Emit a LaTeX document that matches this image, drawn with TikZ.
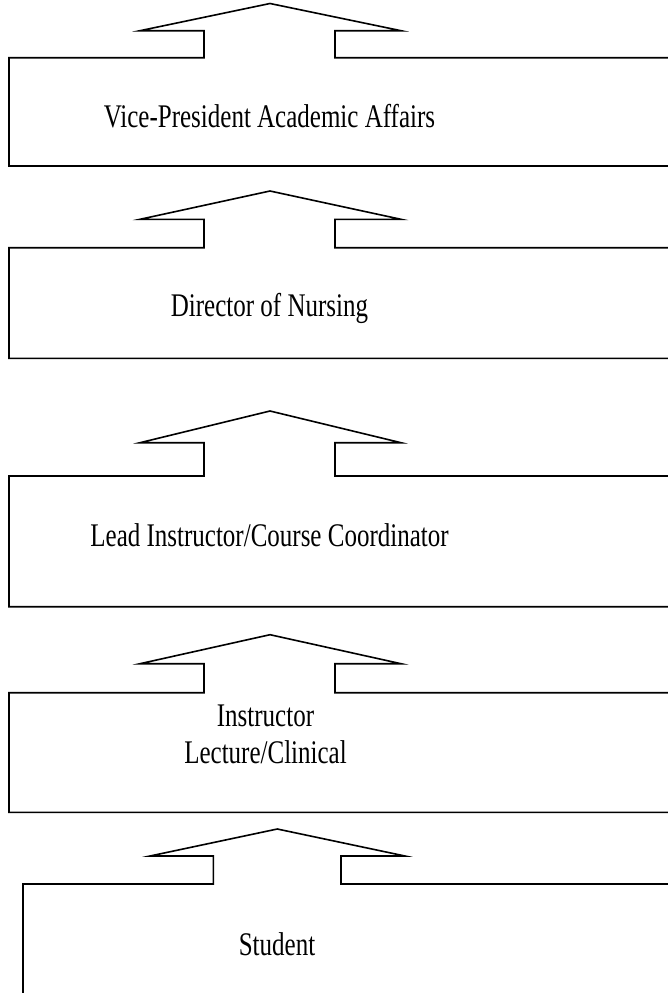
\documentclass[tikz,border=0pt]{standalone}
\usepackage{fontspec}
\setmainfont{Liberation Serif}
\usepackage{tikz}

\begin{document}
\begin{tikzpicture}[x=1pt, y=-1pt]
  \tikzstyle{blk}=[draw=black, line width=1.6pt, line join=miter]
  \tikzstyle{lbl}=[inner sep=0pt, anchor=base, align=center,
                   font=\fontsize{25}{27.3}\selectfont,
                   yscale=1.32, transform shape]

  \useasboundingbox (0,0) rectangle (668,993);
  \clip (0,0) rectangle (668,993);

  % level 1
  \draw[blk] (9,166) -- (9,57.7) -- (204,57.7) -- (204,30.7) -- (140,30.7)
             -- (270,3.5) -- (401,30.7) -- (335,30.7) -- (335,57.7)
             -- (690,57.7) -- (690,166) -- cycle;
  \node[lbl] at (269.5,127.7) (vp) {Vice-President Academic Affairs};

  % level 2
  \draw[blk] (9,358.3) -- (9,247.7) -- (204,247.7) -- (204,219.3) -- (140,219.3)
             -- (270,191) -- (401,219.3) -- (335,219.3) -- (335,247.7)
             -- (690,247.7) -- (690,358.3) -- cycle;
  \node[lbl] at (269.5,316.7) (dir) {Director of Nursing};

  % level 3
  \draw[blk] (9,606.7) -- (9,476) -- (204,476) -- (204,442.7) -- (140,442.7)
             -- (270,411) -- (401,442.7) -- (335,442.7) -- (335,476)
             -- (690,476) -- (690,606.7) -- cycle;
  \node[lbl] at (269.5,546) (lead) {Lead Instructor/Course Coordinator};

  % level 4
  \draw[blk] (9,812.3) -- (9,692.7) -- (204,692.7) -- (204,663.7) -- (140,663.7)
             -- (270,634.7) -- (401,663.7) -- (335,663.7) -- (335,692.7)
             -- (690,692.7) -- (690,812.3) -- cycle;
  \node[lbl] at (265.5,763) (instr) {Instructor\\Lecture/Clinical};

  % level 5
  \draw[blk] (23,1010) -- (23,884) -- (213.3,884) -- (213.3,856) -- (150,856)
             -- (277.3,829) -- (405,856) -- (341,856) -- (341,884)
             -- (690,884) -- (690,1010) -- cycle;
  \node[lbl] at (277,955) (stud) {Student};
\end{tikzpicture}
\end{document}
